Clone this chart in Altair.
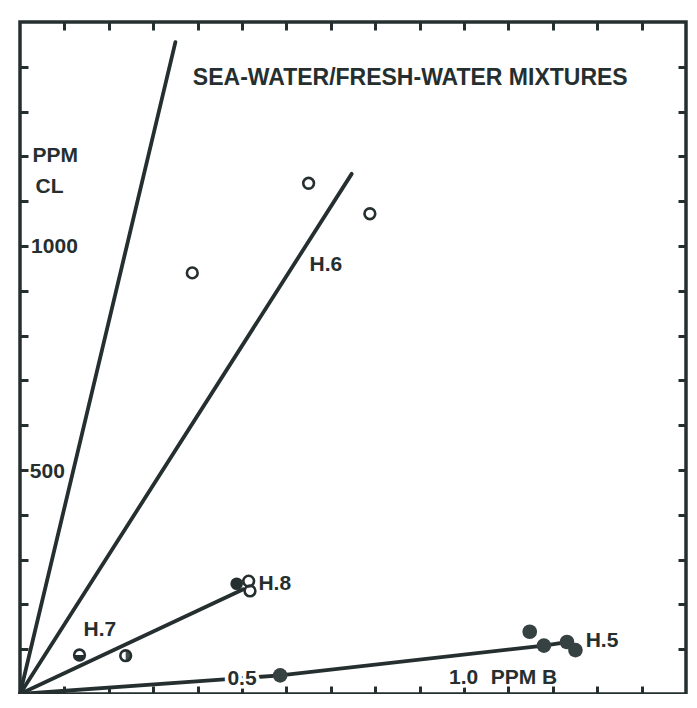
import altair as alt
import pandas as pd

INK = "#262f2f"
FONT = "Liberation Sans"

# ---- reference lines (vertices in data units: PPM B, PPM Cl) ----
sea_x = [0.0, 0.350]
sea_y = [0, 1455]
h6_x = [0.0, 0.747]
h6_y = [0, 1161]
h8_x = [0.0, 0.503]
h8_y = [0, 234]
h5_x = [0.0, 0.586, 1.180, 1.232]
h5_y = [0, 41.6, 108, 116]

# ---- sample points ----
h6_pts_x = [0.388, 0.650, 0.788]
h6_pts_y = [940, 1140, 1072]
h8_open_x = [0.515, 0.518]
h8_open_y = [252, 230]
h8_fill_x = [0.488]
h8_fill_y = [246]
h7_x = [0.134, 0.238]
h7_y = [87, 85.5]
h7_half = ["bottom", "right"]
h5_pts_x = [0.586, 1.148, 1.180, 1.232, 1.251]
h5_pts_y = [41.6, 139, 108, 116, 98]

# ---- ticks ----
x_ticks = [0.1, 0.2, 0.3, 0.4, 0.5, 0.6, 0.7, 0.8, 0.9, 1.0, 1.1, 1.2, 1.3, 1.4]
y_ticks = [100, 200, 300, 400, 500, 600, 700, 800, 900, 1000, 1100, 1200, 1300, 1400]

# ---- text labels ----
left_text = ["PPM", "CL", "1000", "500", "H.6", "H.8", "H.7", "H.5", "PPM B"]
left_x = [0.028, 0.035, 0.025, 0.022, 0.652, 0.537, 0.143, 1.274, 1.060]
left_y = [1200, 1131, 997, 496, 958, 245, 142, 118, 35]
center_text = ["0.5", "1.0"]
center_x = [0.500, 0.999]
center_y = [33.4, 35]
title_text = ["SEA-WATER/FRESH-WATER MIXTURES"]
title_x = [0.879]
title_y = [1376]

# ---- tables ----
rows = []
for name, xs_, ys_ in [("sea", sea_x, sea_y), ("H.6", h6_x, h6_y),
                       ("H.8", h8_x, h8_y), ("H.5", h5_x, h5_y)]:
    for i, (a, b) in enumerate(zip(xs_, ys_)):
        rows.append({"series": name, "order": i, "x": a, "y": b})
lines_df = pd.DataFrame(rows)

open_df = pd.DataFrame({"x": h6_pts_x + h8_open_x + h7_x,
                        "y": h6_pts_y + h8_open_y + h7_y})
fill_df = pd.DataFrame({"x": h8_fill_x, "y": h8_fill_y})
h5_df = pd.DataFrame({"x": h5_pts_x, "y": h5_pts_y})
h7_df = pd.DataFrame({"x": h7_x, "y": h7_y, "half": h7_half})
left_df = pd.DataFrame({"x": left_x, "y": left_y, "t": left_text})
center_df = pd.DataFrame({"x": center_x, "y": center_y, "t": center_text})
title_df = pd.DataFrame({"x": title_x, "y": title_y, "t": title_text})

xs = alt.Scale(domain=[0, 1.5], nice=False, zero=False)
ys = alt.Scale(domain=[0, 1500], nice=False, zero=False)


def tick_axis(orient, values):
    return alt.Axis(orient=orient, values=values, labels=False, title=None,
                    domain=False, grid=False, ticks=True, tickSize=8,
                    tickWidth=3, tickColor=INK, offset=-8)


X = lambda **kw: alt.X("x:Q", scale=xs, **kw)
Y = lambda **kw: alt.Y("y:Q", scale=ys, **kw)

lines = alt.Chart(lines_df).mark_line(
    color=INK, strokeWidth=3.8, strokeCap="round"
).encode(
    x=X(axis=tick_axis("bottom", x_ticks)),
    y=Y(axis=tick_axis("left", y_ticks)),
    detail="series:N", order="order:Q",
)

other_axes = alt.Chart(lines_df).mark_point(opacity=0).encode(
    x=X(axis=tick_axis("top", x_ticks)),
    y=Y(axis=tick_axis("right", y_ticks)),
)

open_pts = alt.Chart(open_df).mark_point(
    shape="circle", filled=False, size=115, strokeWidth=2.6, color=INK, opacity=1
).encode(x=X(axis=None), y=Y(axis=None))

h7_bottom = alt.Chart(h7_df).transform_filter(alt.datum.half == "bottom").mark_point(
    shape="M-1,0A1,1,0,0,0,1,0Z", filled=True, size=115, color=INK, opacity=1
).encode(x=X(axis=None), y=Y(axis=None))

h7_right = alt.Chart(h7_df).transform_filter(alt.datum.half == "right").mark_point(
    shape="M0,-1A1,1,0,0,1,0,1Z", filled=True, size=115, color=INK, opacity=0.85
).encode(x=X(axis=None), y=Y(axis=None))

fill_pts = alt.Chart(fill_df).mark_circle(size=160, color=INK, opacity=1).encode(
    x=X(axis=None), y=Y(axis=None))

h5_pts = alt.Chart(h5_df).mark_circle(size=215, color="#364141", opacity=1).encode(
    x=X(axis=None), y=Y(axis=None))

left_labels = alt.Chart(left_df).mark_text(
    align="left", baseline="middle", font=FONT, fontSize=21, fontWeight="bold",
    color=INK
).encode(x=X(axis=None), y=Y(axis=None), text="t:N")

center_halo = alt.Chart(center_df).mark_text(
    align="center", baseline="middle", font=FONT, fontSize=21, fontWeight="bold",
    color="white", stroke="white", strokeWidth=7
).encode(x=X(axis=None), y=Y(axis=None), text="t:N")

center_labels = alt.Chart(center_df).mark_text(
    align="center", baseline="middle", font=FONT, fontSize=21, fontWeight="bold",
    color=INK
).encode(x=X(axis=None), y=Y(axis=None), text="t:N")

title = alt.Chart(title_df).mark_text(
    align="center", baseline="middle", font=FONT, fontSize=23, fontWeight="bold",
    color=INK
).encode(x=X(axis=None), y=Y(axis=None), text="t:N")

chart = alt.layer(
    lines, other_axes, open_pts, h7_bottom, h7_right, fill_pts, h5_pts,
    left_labels, center_halo, center_labels, title
).resolve_axis(
    x="independent", y="independent"
).properties(
    width=666, height=672,
    autosize=alt.AutoSizeParams(type="none"),
    padding={"left": 12, "top": 14, "right": 3, "bottom": 0},
    background="white",
).configure_view(
    stroke=INK, strokeWidth=3.5
)

chart.save("out.html", embed_options={"renderer": "svg", "actions": False})
